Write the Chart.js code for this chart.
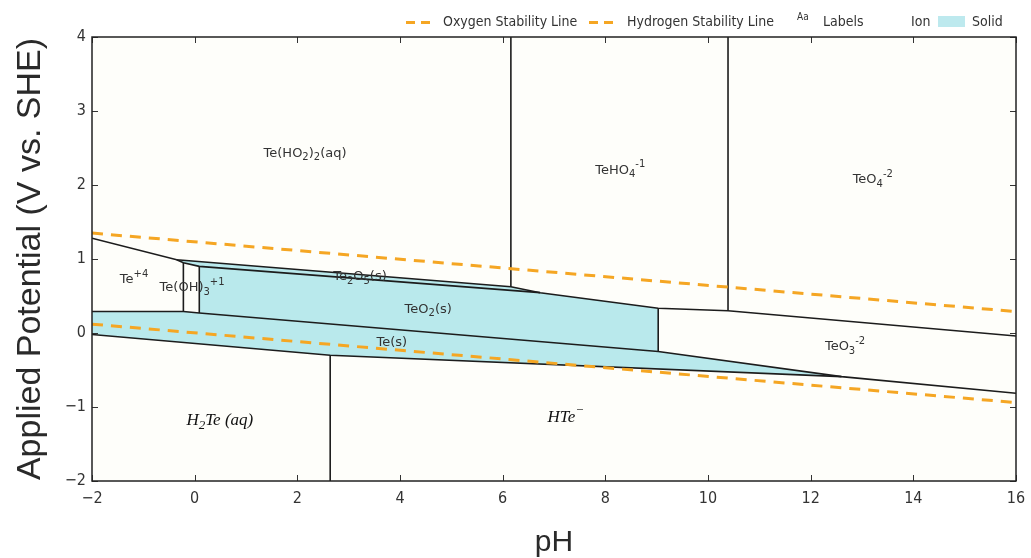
<!DOCTYPE html>
<html>
<head>
<meta charset="utf-8">
<script src="https://cdn.jsdelivr.net/npm/chart.js@4.4.0/dist/chart.umd.min.js"></script>
<style>
  html, body { margin: 0; padding: 0; background: #fff; }
  #wrap { position: relative; width: 1031px; height: 558px; }
  #legend { position: absolute; left: 0; top: 0; width: 1031px; height: 37px;
    font: 14px 'DejaVu Sans Condensed', 'DejaVu Sans', sans-serif; color: #333; }
  #legend .item { position: absolute; top: 13px; line-height: 17px; white-space: nowrap; }
  #legend .dash { position: absolute; top: 21px; height: 3px; width: 9px; background: #f5a623; }
  #legend .box { position: absolute; top: 16px; height: 11px; width: 27px; background: #bde9ee; }
  #legend .aa { position: absolute; top: 11px; font-size: 10px; color: #333; }
</style>
</head>
<body>
<div id="wrap">
  <canvas id="chart" width="1031" height="558"></canvas>
  <div id="legend">
    <span class="dash" style="left:406px"></span><span class="dash" style="left:421px"></span>
    <span class="item" style="left:443px">Oxygen Stability Line</span>
    <span class="dash" style="left:589px"></span><span class="dash" style="left:604px"></span>
    <span class="item" style="left:627px">Hydrogen Stability Line</span>
    <span class="aa" style="left:797px">Aa</span>
    <span class="item" style="left:823px">Labels</span>
    <span class="item" style="left:911px">Ion</span>
    <span class="box" style="left:938px"></span>
    <span class="item" style="left:972px">Solid</span>
  </div>
</div>
<script>
// water stability lines [pH, V]
const oxygenLine = [[-2, 1.35], [16, 0.29]];
const hydrogenLine = [[-2, 0.12], [16, -0.94]];

// phase boundaries [pH, V]
const upperBoundary = [[-2, 1.28], [-0.35, 0.99], [6.16, 0.626], [6.73, 0.545], [9.03, 0.334], [10.39, 0.30], [16, -0.04]];
const te2o5Lower = [[-0.35, 0.99], [-0.22, 0.95], [0.09, 0.90], [6.73, 0.545]];
const teMiddle = [[-2, 0.29], [-0.22, 0.29], [0.09, 0.27], [9.03, -0.25], [12.6, -0.59], [16, -0.815]];
const teLower = [[-2, -0.02], [2.64, -0.30], [12.6, -0.59]];
const vertTeOH = [[-0.22, 0.29], [-0.22, 0.95]];
const vertTeO2Left = [[0.09, 0.27], [0.09, 0.90]];
const vertTeO2Right = [[9.03, -0.25], [9.03, 0.334]];
const vertTeHO4 = [[6.16, 0.626], [6.16, 4]];
const vertTeO4 = [[10.39, 0.30], [10.39, 4]];
const vertHTe = [[2.64, -2], [2.64, -0.30]];

// solid regions [pH, V]
const te2o5Region = [[-0.35, 0.99], [6.16, 0.626], [6.73, 0.545], [0.09, 0.90], [-0.22, 0.95], [-0.35, 0.99]];
const teo2Region = [[0.09, 0.90], [6.73, 0.545], [9.03, 0.334], [9.03, -0.25], [0.09, 0.27], [0.09, 0.90]];
const teRegion = [[-2, 0.29], [-0.22, 0.29], [0.09, 0.27], [9.03, -0.25], [12.6, -0.59], [2.64, -0.30], [-2, -0.02], [-2, 0.29]];

// region labels: _{} subscript, ^{} superscript
const labelNames = ['Te(HO_{2})_{2}(aq)', 'TeHO_{4}^{-1}', 'TeO_{4}^{-2}', 'Te^{+4}', 'Te(OH)_{3}^{+1}',
  'Te_{2}O_{5}(s)', 'TeO_{2}(s)', 'Te(s)', 'TeO_{3}^{-2}'];
const labelPH = [2.15, 8.29, 13.21, -1.18, -0.05, 3.22, 4.55, 3.84, 12.67];
const labelV = [2.43, 2.20, 2.07, 0.72, 0.61, 0.76, 0.32, -0.135, -0.19];
const italicNames = ['H_{2}Te (aq)', 'HTe^{−}'];
const italicPH = [0.49, 7.23];
const italicV = [-1.18, -1.14];

const xTicks = [-2, 0, 2, 4, 6, 8, 10, 12, 14, 16];
const yTicks = [-2, -1, 0, 1, 2, 3, 4];

const BLACK = '#1c1c1c';
const ORANGE = '#f5a623';
const CYAN = '#b9e9ec';
const SANS = "'DejaVu Sans Condensed', 'DejaVu Sans', sans-serif";

const toXY = arr => arr.map(p => ({ x: p[0], y: p[1] }));

function lineSet(label, data, opts) {
  return Object.assign({
    label, data: toXY(data), showLine: true, pointRadius: 0, fill: false,
    borderColor: BLACK, borderWidth: 1.6, order: 2
  }, opts || {});
}

const solid = { fill: 'shape', backgroundColor: CYAN, borderColor: 'rgba(0,0,0,0)', borderWidth: 1, order: 3 };
const water = { borderColor: ORANGE, borderWidth: 3, borderDash: [11, 8], order: 1 };

const datasets = [
  lineSet('Oxygen Stability Line', oxygenLine, water),
  lineSet('Hydrogen Stability Line', hydrogenLine, water),
  lineSet('b1', upperBoundary),
  lineSet('b2', te2o5Lower),
  lineSet('b3', teMiddle),
  lineSet('b4', teLower),
  lineSet('v1', vertTeOH),
  lineSet('v2', vertTeO2Left),
  lineSet('v3', vertTeO2Right),
  lineSet('v4', vertTeHO4),
  lineSet('v5', vertTeO4),
  lineSet('v6', vertHTe),
  lineSet('Te2O5', te2o5Region, solid),
  lineSet('TeO2', teo2Region, solid),
  lineSet('Te', teRegion, solid)
];

// split "Te_{2}O^{-1}" into runs
function parseRich(s) {
  const runs = [];
  const re = /([_^])\{([^}]*)\}|([^_^]+)/g;
  let m;
  while ((m = re.exec(s))) {
    if (m[3]) runs.push({ t: m[3], k: 'n' });
    else runs.push({ t: m[2], k: m[1] === '_' ? 'sub' : 'sup' });
  }
  return runs;
}

function drawRich(ctx, text, cx, cy, size, family, style) {
  const runs = parseRich(text);
  const small = Math.round(size * 0.75);
  const fontFor = k => `${style} ${k === 'n' ? size : small}px ${family}`;
  let w = 0;
  runs.forEach(r => { ctx.font = fontFor(r.k); r.w = ctx.measureText(r.t).width; w += r.w; });
  let x = cx - w / 2;
  ctx.textBaseline = 'middle';
  ctx.textAlign = 'left';
  runs.forEach(r => {
    ctx.font = fontFor(r.k);
    const dy = r.k === 'sub' ? size * 0.32 : r.k === 'sup' ? -size * 0.42 : 0;
    ctx.fillText(r.t, x, cy + dy);
    x += r.w;
  });
}

const framePlugin = {
  id: 'frame',
  beforeDraw(chart) {
    const { ctx, chartArea: a } = chart;
    ctx.save();
    ctx.fillStyle = '#fefefa';
    ctx.fillRect(a.left, a.top, a.right - a.left, a.bottom - a.top);
    ctx.restore();
  },
  afterDatasetsDraw(chart) {
    const { ctx, chartArea: a, scales } = chart;
    ctx.save();
    ctx.fillStyle = '#333';
    for (let i = 0; i < labelNames.length; i++) {
      drawRich(ctx, labelNames[i], scales.x.getPixelForValue(labelPH[i]), scales.y.getPixelForValue(labelV[i]), 13, "'DejaVu Sans', sans-serif", 'normal');
    }
    ctx.fillStyle = '#111';
    for (let i = 0; i < italicNames.length; i++) {
      drawRich(ctx, italicNames[i], scales.x.getPixelForValue(italicPH[i]), scales.y.getPixelForValue(italicV[i]), 17, "'Liberation Serif', serif", 'italic');
    }
    // inner ticks + frame
    ctx.strokeStyle = '#333';
    ctx.lineWidth = 1;
    ctx.beginPath();
    xTicks.forEach(v => {
      const px = Math.round(scales.x.getPixelForValue(v)) + 0.5;
      ctx.moveTo(px, a.bottom); ctx.lineTo(px, a.bottom - 6);
      ctx.moveTo(px, a.top); ctx.lineTo(px, a.top + 6);
    });
    yTicks.forEach(v => {
      const py = Math.round(scales.y.getPixelForValue(v)) + 0.5;
      ctx.moveTo(a.left, py); ctx.lineTo(a.left + 6, py);
      ctx.moveTo(a.right, py); ctx.lineTo(a.right - 6, py);
    });
    ctx.stroke();
    ctx.strokeStyle = '#222';
    ctx.lineWidth = 1.5;
    ctx.strokeRect(a.left, a.top, a.right - a.left, a.bottom - a.top);
    ctx.restore();
  }
};

const minusFmt = v => String(v).replace('-', '\u2212');

new Chart(document.getElementById('chart'), {
  type: 'scatter',
  data: { datasets },
  options: {
    responsive: false,
    animation: false,
    layout: { padding: { top: 37, right: 15, left: 0, bottom: 0 } },
    plugins: { legend: { display: false }, tooltip: { enabled: false } },
    scales: {
      x: {
        type: 'linear', min: -2, max: 16,
        afterFit: s => { s.height = 77; s.paddingRight = 0; s.paddingLeft = 0; },
        afterBuildTicks: s => { s.ticks = xTicks.map(v => ({ value: v })); },
        ticks: { callback: minusFmt, color: '#333', font: { family: SANS, size: 16 }, padding: 8, maxRotation: 0 },
        grid: { display: false, drawTicks: false }, border: { display: false },
        title: { display: true, text: 'pH', color: '#2a2a2a', font: { family: "'Liberation Sans', sans-serif", size: 30, lineHeight: 1.0 }, padding: { top: 4, bottom: 0 } }
      },
      y: {
        type: 'linear', min: -2, max: 4,
        afterFit: s => { s.width = 92; s.paddingTop = 0; s.paddingBottom = 0; },
        afterBuildTicks: s => { s.ticks = yTicks.map(v => ({ value: v })); },
        ticks: { callback: minusFmt, color: '#333', font: { family: SANS, size: 16 }, padding: 6 },
        grid: { display: false, drawTicks: false }, border: { display: false },
        title: { display: true, text: 'Applied Potential (V vs. SHE)', color: '#2a2a2a', font: { family: "'Liberation Sans', sans-serif", size: 34 }, padding: { top: 10, bottom: 0 } }
      }
    }
  },
  plugins: [framePlugin]
});
</script>
</body>
</html>
